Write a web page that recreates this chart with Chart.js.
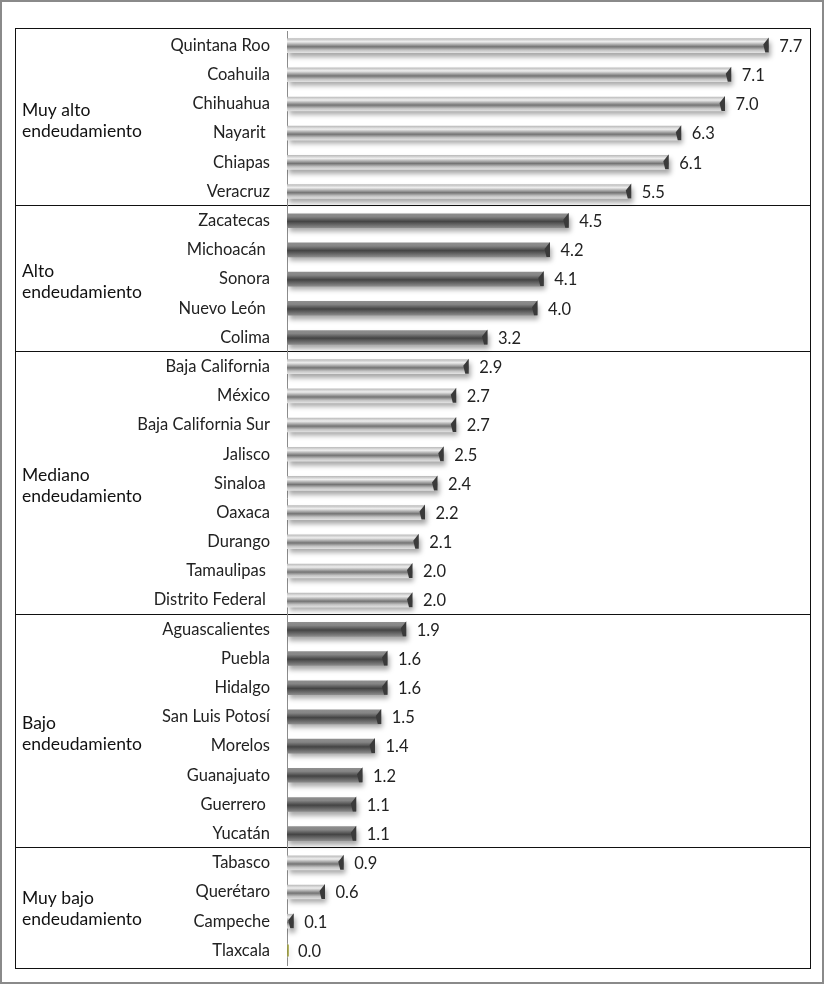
<!DOCTYPE html>
<html>
<head>
<meta charset="utf-8">
<script src="https://cdn.jsdelivr.net/npm/chart.js@4/dist/chart.umd.min.js"></script>
<style>
  html, body { margin: 0; padding: 0; background: #fff; }
  #wrap { width: 825px; height: 984px; position: relative; }
</style>
</head>
<body>
<div id="wrap"><canvas id="chart"></canvas></div>
<script>
// data
const states = ["Quintana Roo", "Coahuila", "Chihuahua", "Nayarit ", "Chiapas", "Veracruz",
    "Zacatecas", "Michoacán ", "Sonora", "Nuevo León ", "Colima",
    "Baja California", "México", "Baja California Sur", "Jalisco", "Sinaloa ", "Oaxaca",
    "Durango", "Tamaulipas ", "Distrito Federal ",
    "Aguascalientes", "Puebla", "Hidalgo", "San Luis Potosí", "Morelos", "Guanajuato",
    "Guerrero ", "Yucatán",
    "Tabasco", "Querétaro", "Campeche", "Tlaxcala"];
const values = [7.7, 7.1, 7.0, 6.3, 6.1, 5.5,
    4.5, 4.2, 4.1, 4.0, 3.2,
    2.9, 2.7, 2.7, 2.5, 2.4, 2.2, 2.1, 2.0, 2.0,
    1.9, 1.6, 1.6, 1.5, 1.4, 1.2, 1.1, 1.1,
    0.9, 0.6, 0.1, 0.0];
const groupNames = [["Muy alto", "endeudamiento"], ["Alto", "endeudamiento"],
    ["Mediano", "endeudamiento"], ["Bajo", "endeudamiento"], ["Muy bajo", "endeudamiento"]];
const groupSizes = [6, 5, 9, 8, 4];

const BAR_H = 14;
const FONT = "Lato, 'Open Sans', sans-serif";

// which group each state belongs to
const groupOf = [];
groupSizes.forEach((n, g) => { for (let i = 0; i < n; i++) groupOf.push(g); });
const isDark = i => groupOf[i] % 2 === 1;

function barGradient(ctx) {
    const chart = ctx.chart;
    const yScale = chart.scales.y;
    const dark = isDark(ctx.dataIndex);
    if (!yScale || ctx.dataIndex === undefined) return dark ? "#666" : "#bbb";
    const yc = yScale.getPixelForValue(ctx.dataIndex);
    if (!isFinite(yc)) return dark ? "#666" : "#bbb";
    const g = chart.ctx.createLinearGradient(0, yc - BAR_H / 2, 0, yc + BAR_H / 2);
    if (dark) {
        g.addColorStop(0, "#8e8e8e");
        g.addColorStop(0.22, "#858585");
        g.addColorStop(0.55, "#444");
        g.addColorStop(0.8, "#6a6a6a");
        g.addColorStop(1, "#8a8a8a");
    } else {
        g.addColorStop(0, "#bdbdbd");
        g.addColorStop(0.22, "#eeeeee");
        g.addColorStop(0.58, "#747474");
        g.addColorStop(0.82, "#c4c4c4");
        g.addColorStop(1, "#e0e0e0");
    }
    return g;
}

const frame = {
    id: "frame",
    beforeDraw(chart) {
        const c = chart.ctx;
        c.save();
        c.strokeStyle = "#8a8a8a";
        c.lineWidth = 2;
        c.strokeRect(1, 1, 822, 982);
        c.strokeStyle = "#111";
        c.lineWidth = 1;
        c.strokeRect(15.5, 28.5, 795, 940);
        // separators between groups
        const y = chart.scales.y;
        let idx = 0;
        groupSizes.forEach((n, g) => {
            const first = idx, last = idx + n - 1;
            idx += n;
            if (g < groupSizes.length - 1) {
                const sy = Math.round((y.getPixelForValue(last) + y.getPixelForValue(last + 1)) / 2) - 0.5;
                c.beginPath();
                c.moveTo(15, sy);
                c.lineTo(811, sy);
                c.stroke();
            }
            // group label
            const mid = (y.getPixelForValue(first) + y.getPixelForValue(last)) / 2;
            c.fillStyle = "#111";
            c.font = "17.5px " + FONT;
            c.textAlign = "left";
            c.textBaseline = "middle";
            c.fillText(groupNames[g][0], 22, mid - 8);
            c.fillText(groupNames[g][1], 22, mid + 13);
        });
        c.restore();
    }
};

const shading = {
    id: "shading",
    beforeDatasetDraw(chart) {
        const c = chart.ctx;
        c.save();
        c.shadowColor = "rgba(0,0,0,0.35)";
        c.shadowBlur = 5;
        c.shadowOffsetX = 2;
        c.shadowOffsetY = 4;
    },
    afterDatasetDraw(chart) {
        chart.ctx.restore();
    },
    afterDatasetsDraw(chart) {
        const c = chart.ctx;
        const meta = chart.getDatasetMeta(0);
        c.save();
        meta.data.forEach((bar, i) => {
            const x = bar.x, yc = bar.y;
            if (values[i] === 0) {
                c.strokeStyle = "#9a9a30";
                c.lineWidth = 1.5;
                c.beginPath();
                c.moveTo(x + 1, yc - BAR_H / 2 + 1);
                c.lineTo(x + 1, yc + BAR_H / 2 - 1);
                c.stroke();
            } else {
                // dark end cap
                c.fillStyle = "#3a3a3a";
                c.beginPath();
                c.moveTo(x + 0.5, yc - BAR_H / 2 - 1);
                c.lineTo(x - 5, yc - 1);
                c.lineTo(x - 3, yc + BAR_H / 2);
                c.lineTo(x + 0.5, yc + BAR_H / 2);
                c.closePath();
                c.fill();
            }
            // value label
            c.fillStyle = "#222";
            c.font = "16.5px " + FONT;
            c.textAlign = "left";
            c.textBaseline = "middle";
            c.fillText(values[i].toFixed(1), x + 11, yc + 1);
        });
        c.restore();
    }
};

new Chart(document.getElementById("chart"), {
    type: "bar",
    data: {
        labels: states,
        datasets: [{
            data: values,
            backgroundColor: barGradient,
            borderWidth: 0,
            borderSkipped: false,
            barThickness: BAR_H
        }]
    },
    options: {
        indexAxis: "y",
        responsive: true,
        maintainAspectRatio: false,
        animation: false,
        layout: { padding: { top: 31, bottom: 19, left: 0, right: 38 } },
        plugins: { legend: { display: false }, tooltip: { enabled: false } },
        scales: {
            x: {
                display: false,
                min: 0,
                max: 8
            },
            y: {
                afterFit(s) {
                    s.width = 287;
                    s.paddingTop = 0;
                    s.paddingBottom = 0;
                },
                grid: { display: false, drawTicks: false },
                border: { display: true, color: "#8c8c8c", width: 1 },
                ticks: {
                    padding: 17,
                    color: "#222",
                    font: { family: FONT, size: 16.5 },
                    autoSkip: false
                }
            }
        }
    },
    plugins: [frame, shading]
});
</script>
</body>
</html>
